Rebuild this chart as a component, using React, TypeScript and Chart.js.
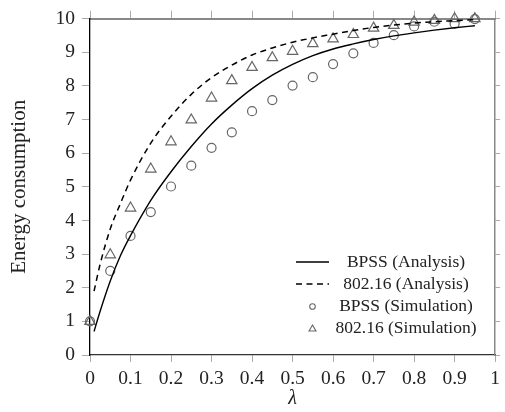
import React, { useEffect, useRef } from "react";
import { Chart, registerables } from "chart.js";

Chart.register(...registerables);

// Analysis curves (lambda, energy consumption)
const analysisLambda = [0.01, 0.025, 0.05, 0.075, 0.1, 0.15, 0.2, 0.25, 0.3, 0.35, 0.4, 0.45, 0.5, 0.55, 0.6, 0.65, 0.7, 0.75, 0.8, 0.85, 0.9, 0.95];
const bpssAnalysis = [0.7, 1.3, 2.2, 2.95, 3.55, 4.6, 5.45, 6.2, 6.87, 7.43, 7.92, 8.32, 8.64, 8.9, 9.1, 9.25, 9.38, 9.49, 9.58, 9.66, 9.73, 9.79];
const wimaxAnalysis = [1.9, 2.7, 3.75, 4.5, 5.2, 6.3, 7.1, 7.75, 8.25, 8.62, 8.92, 9.13, 9.3, 9.43, 9.54, 9.65, 9.74, 9.81, 9.87, 9.91, 9.94, 9.97];

// Simulation points
const simLambda = [0, 0.05, 0.1, 0.15, 0.2, 0.25, 0.3, 0.35, 0.4, 0.45, 0.5, 0.55, 0.6, 0.65, 0.7, 0.75, 0.8, 0.85, 0.9, 0.95];
const bpssSimulation = [1.0, 2.5, 3.54, 4.25, 5.01, 5.63, 6.16, 6.62, 7.25, 7.58, 8.01, 8.26, 8.65, 8.97, 9.28, 9.51, 9.77, 9.91, 9.85, 9.99];
const wimaxSimulation = [1.0, 2.98, 4.37, 5.53, 6.34, 6.99, 7.64, 8.16, 8.55, 8.84, 9.03, 9.26, 9.4, 9.53, 9.72, 9.8, 9.9, 9.95, 10.0, 10.0];

const seriesLabels = ["BPSS (Analysis)", "802.16 (Analysis)", "BPSS (Simulation)", "802.16 (Simulation)"];
const xTickValues = [0, 0.1, 0.2, 0.3, 0.4, 0.5, 0.6, 0.7, 0.8, 0.9, 1];
const yTickValues = [0, 1, 2, 3, 4, 5, 6, 7, 8, 9, 10];
const xTitle = "λ";
const yTitle = "Energy consumption";

const SERIF = '"Liberation Serif", "Times New Roman", serif';
const MARKER = "#666666";

const toPoints = (xs: number[], ys: number[]) => xs.map((x, i) => ({ x, y: ys[i] }));

const legendPlugin = {
  id: "customLegend",
  afterDatasetsDraw(chart: any) {
    const ctx = chart.ctx as CanvasRenderingContext2D;
    const rows = [262, 284, 306.5, 328.5];
    const x0 = 296;
    const x1 = 329;
    const mx = 312.5;
    const textX = 406;
    ctx.save();
    chart.data.datasets.forEach((ds: any, i: number) => {
      const y = rows[i];
      if (ds.showLine) {
        ctx.beginPath();
        ctx.strokeStyle = ds.borderColor;
        ctx.lineWidth = 1.6;
        ctx.setLineDash(ds.borderDash || []);
        ctx.moveTo(x0, y);
        ctx.lineTo(x1, y);
        ctx.stroke();
        ctx.setLineDash([]);
      } else {
        ctx.beginPath();
        ctx.strokeStyle = ds.borderColor;
        ctx.lineWidth = 1.1;
        if (ds.pointStyle === "circle") {
          ctx.arc(mx, y, 2.8, 0, Math.PI * 2);
        } else {
          const r = 4;
          for (let k = 0; k < 3; k++) {
            const a = (k * 2 * Math.PI) / 3;
            const px = mx + Math.sin(a) * r;
            const py = y + 0.5 - Math.cos(a) * r;
            if (k === 0) ctx.moveTo(px, py);
            else ctx.lineTo(px, py);
          }
          ctx.closePath();
        }
        ctx.stroke();
      }
      ctx.fillStyle = "#222";
      ctx.font = `17.5px ${SERIF}`;
      ctx.textAlign = "center";
      ctx.textBaseline = "middle";
      ctx.fillText(ds.label, textX, y);
    });
    ctx.restore();
  },
};

const fmt = (v: number) => {
  const r = Math.round(v * 10) / 10;
  return r === 0 ? "0" : r === 1 ? "1" : r.toFixed(1);
};

export default function App() {
  const ref = useRef<HTMLCanvasElement | null>(null);

  useEffect(() => {
    if (!ref.current) return;
    const chart = new Chart(ref.current, {
      type: "scatter",
      data: {
        datasets: [
          {
            label: seriesLabels[0],
            data: toPoints(analysisLambda, bpssAnalysis),
            showLine: true,
            borderColor: "#000",
            borderWidth: 1.4,
            pointRadius: 0,
            cubicInterpolationMode: "monotone",
            clip: false,
          } as any,
          {
            label: seriesLabels[1],
            data: toPoints(analysisLambda, wimaxAnalysis),
            showLine: true,
            borderColor: "#000",
            borderWidth: 1.5,
            borderDash: [6, 4.5],
            pointRadius: 0,
            cubicInterpolationMode: "monotone",
            clip: false,
          } as any,
          {
            label: seriesLabels[2],
            data: toPoints(simLambda, bpssSimulation),
            showLine: false,
            pointStyle: "circle",
            pointRadius: 4.5,
            borderColor: MARKER,
            backgroundColor: "rgba(0,0,0,0)",
            borderWidth: 1.2,
            clip: false,
          } as any,
          {
            label: seriesLabels[3],
            data: toPoints(simLambda, wimaxSimulation),
            showLine: false,
            pointStyle: "triangle",
            pointRadius: 6,
            borderColor: MARKER,
            backgroundColor: "rgba(0,0,0,0)",
            borderWidth: 1.2,
            clip: false,
          } as any,
        ],
      },
      options: {
        animation: false,
        responsive: false,
        maintainAspectRatio: false,
        layout: { padding: 0 },
        plugins: {
          legend: { display: false },
          tooltip: { enabled: false },
        },
        scales: {
          x: {
            type: "linear",
            position: "bottom",
            min: 0,
            max: 1,
            afterBuildTicks: (s: any) => {
              s.ticks = xTickValues.map((v) => ({ value: v }));
            },
            afterFit: (s: any) => {
              s.height = 57;
            },
            ticks: {
              padding: 5,
              color: "#222",
              font: { family: SERIF, size: 19.5 },
              maxRotation: 0,
              callback: (v: any) => fmt(Number(v)),
            },
            grid: { drawOnChartArea: false, drawTicks: true, tickLength: 7, color: "#aaa" },
            border: { display: true, color: "#333", width: 1.3 },
            title: {
              display: true,
              text: xTitle,
              color: "#222",
              font: { family: SERIF, size: 20, style: "italic" },
              padding: { top: 0, bottom: 1.5 },
            },
          },
          x2: {
            type: "linear",
            position: "top",
            min: 0,
            max: 1,
            afterBuildTicks: (s: any) => {
              s.ticks = xTickValues.map((v) => ({ value: v }));
            },
            afterFit: (s: any) => {
              s.height = 14;
            },
            ticks: { display: false },
            grid: { drawOnChartArea: false, drawTicks: true, tickLength: 8, color: "#aaa" },
            border: { display: true, color: "#888", width: 2 },
          },
          y: {
            type: "linear",
            position: "left",
            min: 0,
            max: 10,
            afterBuildTicks: (s: any) => {
              s.ticks = yTickValues.map((v) => ({ value: v }));
            },
            afterFit: (s: any) => {
              s.width = 90;
            },
            ticks: {
              padding: 7,
              color: "#222",
              font: { family: SERIF, size: 19.5 },
            },
            grid: { drawOnChartArea: false, drawTicks: true, tickLength: 8, color: "#aaa" },
            border: { display: true, color: "#000", width: 1.3 },
            title: {
              display: true,
              text: yTitle,
              color: "#222",
              font: { family: SERIF, size: 21 },
              padding: { top: 7, bottom: 0 },
            },
          },
          y2: {
            type: "linear",
            position: "right",
            min: 0,
            max: 10,
            afterBuildTicks: (s: any) => {
              s.ticks = yTickValues.map((v) => ({ value: v }));
            },
            afterFit: (s: any) => {
              s.width = 5;
            },
            ticks: { display: false },
            grid: { drawOnChartArea: false, drawTicks: true, tickLength: 5, color: "#aaa" },
            border: { display: true, color: "#888", width: 1.5 },
          },
        },
      } as any,
      plugins: [legendPlugin],
    });
    return () => chart.destroy();
  }, []);

  return (
    <div style={{ position: "fixed", left: 0, top: 0, width: 505, height: 412, background: "#fff" }}>
      <canvas ref={ref} width={505} height={412} style={{ display: "block" }} />
    </div>
  );
}
